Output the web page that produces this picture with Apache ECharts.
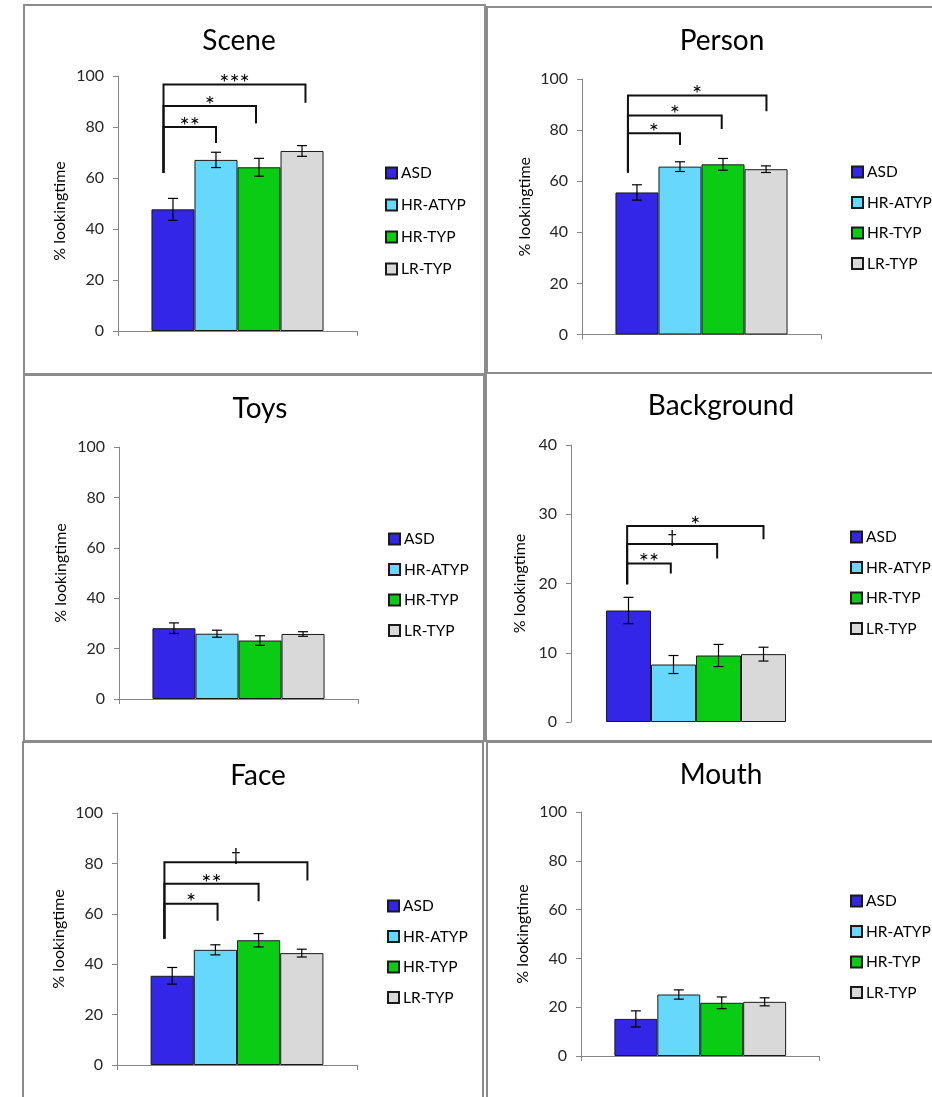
<!DOCTYPE html>
<html>
<head>
<meta charset="utf-8">
<script src="https://cdn.jsdelivr.net/npm/echarts@6/dist/echarts.min.js"></script>
<style>
  html, body { margin: 0; padding: 0; background: #fff; }
  #chart { width: 932px; height: 1097px; }
</style>
</head>
<body>
<div id="chart"></div>
<script>
// Groups shown in every panel
const groups = ['ASD', 'HR-ATYP', 'HR-TYP', 'LR-TYP'];
const panelTitles = ['Scene', 'Person', 'Toys', 'Background', 'Face', 'Mouth'];
const yAxisName = '% lookingtime';

// Mean % looking time per group, and standard errors
const sceneMeans = [47.7, 67.1, 64.2, 70.6];
const sceneErr = [4.3, 3.0, 3.5, 2.1];
const personMeans = [55.6, 65.7, 66.6, 64.7];
const personErr = [3.0, 1.9, 2.3, 1.3];
const toysMeans = [28.1, 25.9, 23.2, 25.8];
const toysErr = [2.1, 1.4, 1.9, 0.9];
const backgroundMeans = [16.1, 8.3, 9.6, 9.8];
const backgroundErr = [1.9, 1.3, 1.6, 1.0];
const faceMeans = [35.4, 45.7, 49.5, 44.4];
const faceErr = [3.3, 2.0, 2.65, 1.55];
const mouthMeans = [15.2, 25.2, 21.8, 22.2];
const mouthErr = [3.3, 1.9, 2.4, 1.65];

// Axis ranges: max and tick step for each panel
const yMaxes = [100, 100, 100, 40, 100, 100];
const ySteps = [20, 20, 20, 10, 20, 20];

// Significance brackets: [left bar pos, right bar pos, left-leg foot, bar height, right-leg foot, mark]
// (bar positions in bar-index units, 0 = ASD ... 3 = LR-TYP)
const sceneSig = [
  [-0.22, 1.00, 62, 80.0, 73.7, '**'],
  [-0.22, 1.93, 62, 88.2, 81.4, '*'],
  [-0.22, 3.08, 62, 96.7, 89.5, '***']
];
const personSig = [
  [-0.21, 1.00, 63.4, 78.8, 74.2, '*'],
  [-0.21, 1.97, 63.4, 85.7, 80.4, '*'],
  [-0.21, 3.01, 63.4, 93.5, 87.4, '*']
];
const toysSig = [];
const backgroundSig = [
  [-0.03, 0.94, 19.9, 22.9, 21.45, '**'],
  [-0.03, 1.97, 19.9, 25.7, 23.6, '\u2020'],
  [-0.03, 3.00, 19.9, 28.3, 26.4, '*']
];
const faceSig = [
  [-0.18, 1.05, 50.1, 64.0, 57.2, '*'],
  [-0.18, 2.00, 50.1, 71.9, 65.0, '**'],
  [-0.18, 3.13, 50.1, 80.5, 73.2, '\u2020']
];
const mouthSig = [];

const allMeans = [sceneMeans, personMeans, toysMeans, backgroundMeans, faceMeans, mouthMeans];
const allErr = [sceneErr, personErr, toysErr, backgroundErr, faceErr, mouthErr];
const allSig = [sceneSig, personSig, toysSig, backgroundSig, faceSig, mouthSig];

// ---- styling / layout ----
const FONT = 'Lato, "Open Sans", sans-serif';
const barColors = ['#3326E6', '#66D8FC', '#0ACC14', '#D9D9D9'];
const GROUP_FRACTION = 0.72;   // share of the category band filled by the 4 bars

// plot area, legend anchor, title centre, axis-name gap and frame for each panel
const layout = [
  { grid: [118, 76, 239, 255],     legend: [385, 165, 16],   title: [234, 22],  gap: 50, namePad: 15, frame: [24, 5, 461, 369], xLine: true },
  { grid: [582, 79, 239, 255.5],   legend: [851, 164, 14.5], title: [717, 22],  gap: 49, namePad: 0, frame: [487, 7, 460, 366], xLine: true },
  { grid: [119, 447, 239, 252],    legend: [388, 531, 14.5], title: [255, 390], gap: 50, namePad: 0, frame: [24, 375, 460, 366], xLine: true },
  { grid: [571, 445, 250, 277],    legend: [850, 529, 14.5], title: [716, 387], gap: 43, namePad: 0, frame: [486, 373, 460, 368], xLine: false },
  { grid: [117, 813, 240, 252],    legend: [387, 898, 14.5], title: [253, 757], gap: 50, namePad: 0, frame: [23, 742, 460, 370], xLine: true },
  { grid: [581, 812, 238.5, 244],  legend: [850, 893, 14.5], title: [716, 756], gap: 50, namePad: 0, frame: [487, 742, 460, 370], xLine: true }
];

const grids = [], xAxes = [], yAxes = [], series = [], legends = [], titles = [], frames = [];

layout.forEach((L, k) => {
  const [gl, gt, gw, gh] = L.grid;
  grids.push({ left: gl, top: gt, width: gw, height: gh, containLabel: false });

  xAxes.push({
    gridIndex: k,
    type: 'category',
    data: [''],
    axisLine: { show: L.xLine, lineStyle: { color: '#868686', width: 1 } },
    axisTick: { show: L.xLine, length: 5, lineStyle: { color: '#868686' } },
    axisLabel: { show: false },
    splitLine: { show: false }
  });

  yAxes.push({
    gridIndex: k,
    type: 'value',
    min: 0,
    max: yMaxes[k],
    interval: ySteps[k],
    name: yAxisName,
    nameLocation: 'middle',
    nameRotate: 90,
    nameGap: L.gap,
    nameTextStyle: { fontFamily: FONT, fontSize: 16, color: '#000', padding: [0, L.namePad, 0, 0] },
    axisLine: { show: true, lineStyle: { color: '#868686', width: 1 } },
    axisTick: { show: true, length: 5, lineStyle: { color: '#868686' } },
    axisLabel: { fontFamily: FONT, fontSize: 16, color: '#262626', margin: 14 },
    splitLine: { show: false }
  });

  // one bar series per group
  groups.forEach((g, i) => {
    series.push({
      type: 'bar',
      name: g,
      xAxisIndex: k,
      yAxisIndex: k,
      data: [allMeans[k][i]],
      barGap: '0%',
      barCategoryGap: Math.round((1 - GROUP_FRACTION) * 100) + '%',
      itemStyle: { color: barColors[i], borderColor: '#1a1a1a', borderWidth: 1 },
      emphasis: { disabled: true },
      animation: false,
      z: 2
    });
  });

  // error bars, positioned on the bars through the axis scale
  const errData = allMeans[k].map((m, i) => [0, m, allErr[k][i], i]);
  series.push({
    type: 'custom',
    xAxisIndex: k,
    yAxisIndex: k,
    data: errData,
    encode: { x: 0, y: 1 },
    silent: true,
    animation: false,
    z: 5,
    renderItem: (params, api) => {
      const mean = api.value(1), se = api.value(2), idx = api.value(3);
      const base = api.coord([0, mean]);
      const band = api.size([1, 0])[0];
      const barW = band * GROUP_FRACTION / groups.length;
      const x = base[0] + (idx - (groups.length - 1) / 2) * barW;
      const yHi = api.coord([0, mean + se])[1];
      const yLo = api.coord([0, mean - se])[1];
      const cap = 5;
      const st = { stroke: '#000', lineWidth: 1.2 };
      return {
        type: 'group',
        children: [
          { type: 'line', shape: { x1: x, y1: yHi, x2: x, y2: yLo }, style: st },
          { type: 'line', shape: { x1: x - cap, y1: yHi, x2: x + cap, y2: yHi }, style: st },
          { type: 'line', shape: { x1: x - cap, y1: yLo, x2: x + cap, y2: yLo }, style: st }
        ]
      };
    }
  });

  // significance brackets
  const sig = allSig[k];
  if (sig.length) {
    series.push({
      type: 'custom',
      xAxisIndex: k,
      yAxisIndex: k,
      data: sig.map(s => [0, s[3]]),
      encode: { x: 0, y: 1 },
      silent: true,
      animation: false,
      z: 6,
      renderItem: (params, api) => {
        const s = sig[params.dataIndex];
        const band = api.size([1, 0])[0];
        const barW = band * GROUP_FRACTION / groups.length;
        const cx = api.coord([0, 0])[0];
        const xAt = p => cx + (p - (groups.length - 1) / 2) * barW;
        const yAt = v => api.coord([0, v])[1];
        const xL = xAt(s[0]), xR = xAt(s[1]);
        const yTop = yAt(s[3]);
        const isDagger = s[5] === '\u2020';
        return {
          type: 'group',
          children: [
            {
              type: 'polyline',
              shape: { points: [[xL, yAt(s[2])], [xL, yTop], [xR, yTop], [xR, yAt(s[4])]] },
              style: { stroke: '#111', lineWidth: 2, fill: null }
            },
            {
              type: 'text',
              x: (xL + xR) / 2,
              y: yTop + (isDagger ? 2 : 11),
              style: {
                text: s[5],
                fill: '#000',
                font: (isDagger ? '17px ' : '24px ') + FONT,
                align: 'center',
                verticalAlign: 'bottom'
              }
            }
          ]
        };
      }
    });
  }

  legends.push({
    orient: 'vertical',
    left: L.legend[0],
    top: L.legend[1],
    padding: 0,
    itemWidth: 11,
    itemHeight: 11,
    itemGap: L.legend[2],
    icon: 'rect',
    data: groups,
    selectedMode: false,
    textStyle: { fontFamily: FONT, fontSize: 15.5, color: '#000', lineHeight: 16, padding: [0, 0, 0, -1] }
  });

  titles.push({
    text: panelTitles[k],
    left: L.title[0],
    top: L.title[1],
    textAlign: 'center',
    textStyle: { fontFamily: FONT, fontSize: 28, fontWeight: 'normal', color: '#000' }
  });

  const [fx, fy, fw, fh] = L.frame;
  frames.push({
    type: 'rect',
    shape: { x: fx, y: fy, width: fw, height: fh },
    style: { fill: null, stroke: '#8c8c8c', lineWidth: 2 },
    silent: true,
    z: 100
  });
});

const chart = echarts.init(document.getElementById('chart'), null, { renderer: 'canvas' });
chart.setOption({
  backgroundColor: '#fff',
  animation: false,
  title: titles,
  legend: legends,
  grid: grids,
  xAxis: xAxes,
  yAxis: yAxes,
  series: series,
  graphic: { elements: frames }
});
</script>
</body>
</html>
